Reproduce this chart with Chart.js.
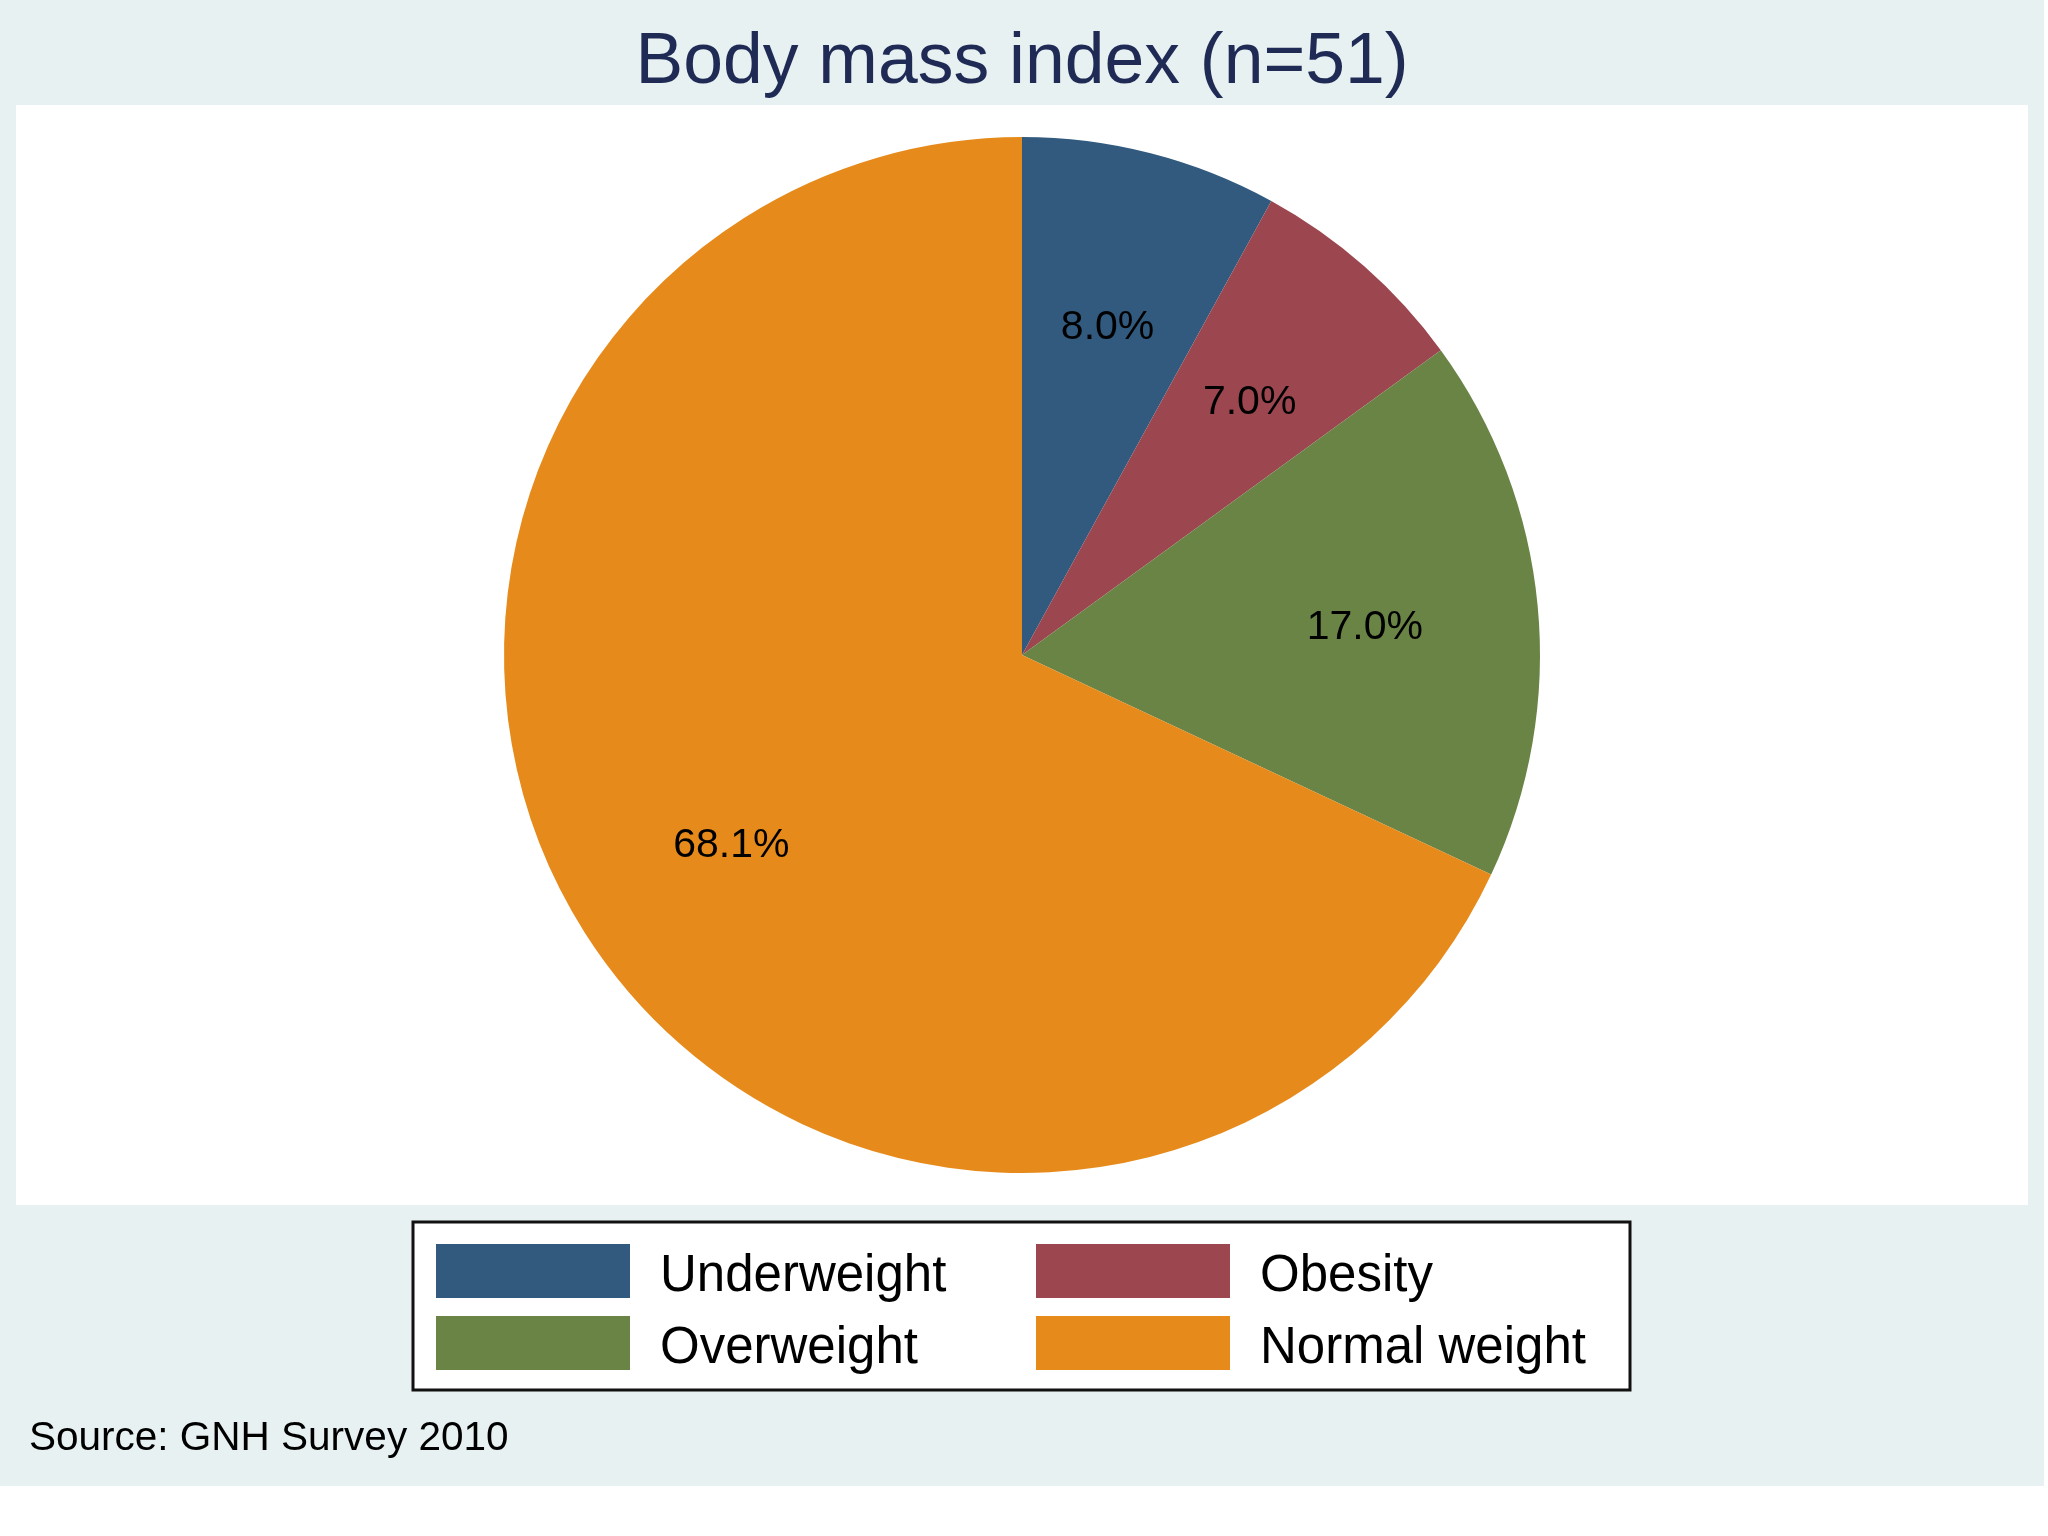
<!DOCTYPE html>
<html>
<head>
<meta charset="utf-8">
<script src="https://cdn.jsdelivr.net/npm/chart.js@4/dist/chart.umd.min.js"></script>
<style>
  html, body { margin: 0; padding: 0; background: #ffffff; }
  #wrap { width: 2048px; height: 1536px; position: relative; }
</style>
</head>
<body>
<div id="wrap"><canvas id="bmiChart" width="2048" height="1536"></canvas></div>
<script>
var categories = ['Underweight', 'Obesity', 'Overweight', 'Normal weight'];
var percentages = [8.0, 7.0, 17.0, 68.1];
var sliceColors = ['#325a7e', '#9c4750', '#6a8446', '#e68b1b'];
// legend reads row by row, two columns
var legendOrder = [0, 1, 2, 3];

var titleText = 'Body mass index (n=51)';
var sourceText = 'Source: GNH Survey 2010';
var fontFamily = '"Liberation Sans", Arial, Helvetica, sans-serif';

// background panels, title, slice labels, legend box and source note
var decorPlugin = {
    id: 'decor',
    beforeDraw: function (chart) {
        var ctx = chart.ctx;
        ctx.save();
        ctx.fillStyle = '#ffffff';
        ctx.fillRect(0, 0, chart.width, chart.height);
        ctx.fillStyle = '#e8f1f1';
        ctx.fillRect(0, 0, 2044, 1486);
        ctx.fillStyle = '#ffffff';
        ctx.fillRect(16, 105, 2012, 1100);

        ctx.fillStyle = '#1f2b55';
        ctx.font = '71.5px ' + fontFamily;
        ctx.textAlign = 'center';
        ctx.textBaseline = 'alphabetic';
        ctx.fillText(titleText, 1022, 83);
        ctx.restore();
    },
    afterDraw: function (chart) {
        var ctx = chart.ctx;
        var meta = chart.getDatasetMeta(0);
        ctx.save();

        // percentage labels at two thirds of the radius
        ctx.fillStyle = '#000000';
        ctx.font = '41px ' + fontFamily;
        ctx.textAlign = 'center';
        ctx.textBaseline = 'middle';
        meta.data.forEach(function (arc, i) {
            var p = arc.getProps(['x', 'y', 'startAngle', 'endAngle', 'outerRadius'], true);
            var mid = (p.startAngle + p.endAngle) / 2;
            var r = p.outerRadius * 0.665;
            ctx.fillText(percentages[i].toFixed(1) + '%', p.x + Math.cos(mid) * r, p.y + Math.sin(mid) * r + 6);
        });

        // legend
        var box = { x: 413, y: 1222, w: 1217, h: 168 };
        ctx.fillStyle = '#ffffff';
        ctx.fillRect(box.x, box.y, box.w, box.h);
        ctx.strokeStyle = '#111111';
        ctx.lineWidth = 3;
        ctx.strokeRect(box.x, box.y, box.w, box.h);

        var colX = [436, 1036];
        var rowY = [1244, 1316];
        ctx.font = '51px ' + fontFamily;
        ctx.textAlign = 'left';
        ctx.textBaseline = 'alphabetic';
        legendOrder.forEach(function (idx, k) {
            var cx = colX[k % 2];
            var cy = rowY[Math.floor(k / 2)];
            ctx.fillStyle = sliceColors[idx];
            ctx.fillRect(cx, cy, 194, 54);
            ctx.fillStyle = '#000000';
            ctx.fillText(categories[idx], cx + 224, cy + 47);
        });

        ctx.font = '40.5px ' + fontFamily;
        ctx.fillStyle = '#000000';
        ctx.fillText(sourceText, 29, 1450);
        ctx.restore();
    }
};

var ctx = document.getElementById('bmiChart').getContext('2d');
var chart = new Chart(ctx, {
    type: 'pie',
    data: {
        labels: categories,
        datasets: [{
            data: percentages,
            backgroundColor: sliceColors,
            borderWidth: 0
        }]
    },
    options: {
        responsive: false,
        animation: false,
        layout: {
            padding: { top: 137, bottom: 363, left: 16, right: 20 }
        },
        plugins: {
            legend: { display: false },
            title: { display: false },
            tooltip: { enabled: false }
        }
    },
    plugins: [decorPlugin]
});
</script>
</body>
</html>
